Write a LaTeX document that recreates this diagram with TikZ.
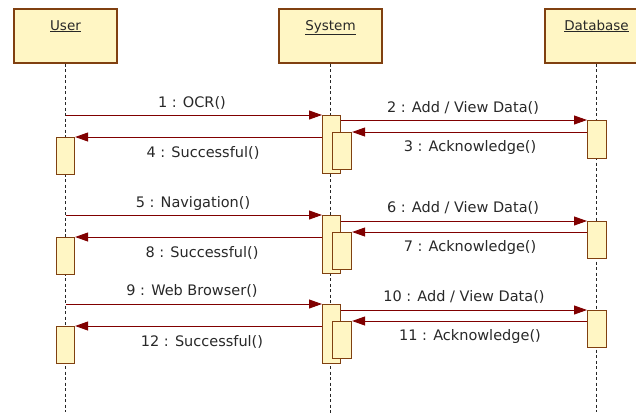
\documentclass[tikz,border=0pt]{standalone}
\usepackage{fontspec}
\setmainfont{DejaVu Sans}
\usetikzlibrary{arrows.meta}
\definecolor{boxfill}{RGB}{255,246,196}
\definecolor{boxline}{RGB}{128,64,16}
\definecolor{msgcol}{RGB}{128,0,0}
\definecolor{txtcol}{RGB}{40,40,40}
\tikzset{
  head/.style={draw=boxline, fill=boxfill, line width=1.1pt, minimum width=103pt,
    inner xsep=0pt, inner ysep=10pt, text height=11pt, text depth=23pt,
    font=\fontsize{13.5}{16}\selectfont, text=txtcol},
  act/.style={draw=boxline, fill=boxfill, line width=1.1pt, inner sep=0pt, anchor=north west},
  life/.style={line width=1pt, dash pattern=on 3pt off 2.5pt, black!85},
  msg/.style={draw=msgcol, line width=0.9pt, -{Triangle[length=13pt,width=9pt]}},
  lbl/.style={font=\fontsize{14.5}{17}\selectfont, text=txtcol, inner sep=0pt}
}
\newcommand{\actbox}[5]{\node[act, minimum width=#4pt, minimum height=#5pt] (#1) at (#2,#3) {};}
\begin{document}
\begin{tikzpicture}[x=1pt,y=-1pt]
\useasboundingbox (0,0) rectangle (636,416);
\clip (0,0) rectangle (636,416);
% heads
\node[head] (U) at (65.5,36) {\underline{User}};
\node[head] (S) at (330.5,36) {\underline{System}};
\node[head] (D) at (596.5,36) {\underline{Database}};
% lifeline ends
\coordinate (Ue) at (65.5,412);
\coordinate (Se) at (330.5,414);
\coordinate (De) at (596.5,412);
\draw[life] (U.south) -- (Ue);
\draw[life] (S.south) -- (Se);
\draw[life] (D.south) -- (De);
% activations: name, x, y, w, h
\actbox{uA1}{56}{137}{18}{37}
\actbox{uA2}{56}{237}{18}{37}
\actbox{uA3}{56}{326}{18}{37}
\actbox{sA1}{322}{115}{18}{58}
\actbox{sB1}{332}{132}{19}{37}
\actbox{sA2}{322}{215}{18}{58}
\actbox{sB2}{332}{232}{19}{37}
\actbox{sA3}{322}{304}{18}{59}
\actbox{sB3}{332}{321}{19}{37}
\actbox{dA1}{587}{120}{19}{38}
\actbox{dA2}{587}{221}{19}{37}
\actbox{dA3}{587}{310}{19}{37}
% messages group 1
\draw[msg] (sA1.north west -| U.south) -- (sA1.north west);
\draw[msg] (dA1.north west -| sA1.east) -- (dA1.north west);
\draw[msg] (sB1.north east -| dA1.west) -- (sB1.north east);
\draw[msg] (uA1.north east -| sA1.west) -- (uA1.north east);
% group 2
\draw[msg] (sA2.north west -| U.south) -- (sA2.north west);
\draw[msg] (dA2.north west -| sA2.east) -- (dA2.north west);
\draw[msg] (sB2.north east -| dA2.west) -- (sB2.north east);
\draw[msg] (uA2.north east -| sA2.west) -- (uA2.north east);
% group 3
\draw[msg] (sA3.north west -| U.south) -- (sA3.north west);
\draw[msg] (dA3.north west -| sA3.east) -- (dA3.north west);
\draw[msg] (sB3.north east -| dA3.west) -- (sB3.north east);
\draw[msg] (uA3.north east -| sA3.west) -- (uA3.north east);
% labels
\node[lbl] (l1) at (192,103) {1 : OCR()};
\node[lbl] (l2) at (463,108) {2 : Add / View Data()};
\node[lbl] (l3) at (470,147) {3 : Acknowledge()};
\node[lbl] (l4) at (203,153) {4 : Successful()};
\node[lbl] (l5) at (193,203) {5 : Navigation()};
\node[lbl] (l6) at (463,208) {6 : Add / View Data()};
\node[lbl] (l7) at (470,247) {7 : Acknowledge()};
\node[lbl] (l8) at (202,253) {8 : Successful()};
\node[lbl] (l9) at (192,291) {9 : Web Browser()};
\node[lbl] (l10) at (464,297) {10 : Add / View Data()};
\node[lbl] (l11) at (470,336) {11 : Acknowledge()};
\node[lbl] (l12) at (202,342) {12 : Successful()};
\end{tikzpicture}
\end{document}
